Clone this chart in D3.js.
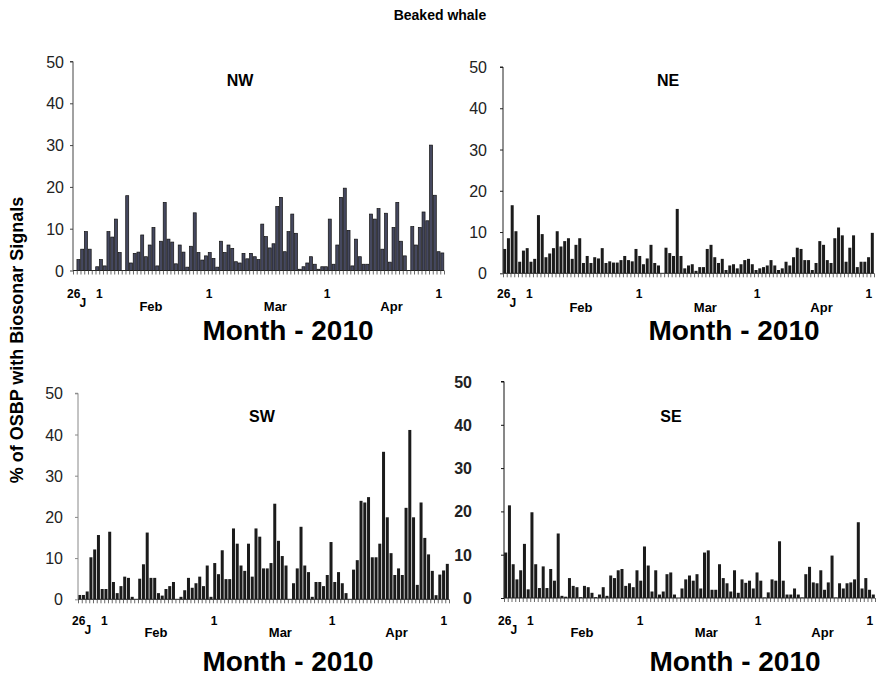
<!DOCTYPE html>
<html>
<head>
<meta charset="utf-8">
<script src="https://cdn.jsdelivr.net/npm/d3@7"></script>
<style>
  body { margin: 0; background: #fff; }
  svg { display: block; font-family: "Liberation Sans", Arial, sans-serif; }
</style>
</head>
<body>
<div id="chart"></div>
<script>
// daily % of OSBP with biosonar signals, Jan 26 -> early May 2010
var nwValues = [0, 2.6, 5.1, 9.3, 5.1, 0, 0.9, 2.6, 1.1, 9.3, 8.0, 12.3, 4.3, 0, 17.9, 1.8, 4.1, 4.4, 8.5, 3.3,
  6.1, 10.3, 1.1, 7.0, 16.3, 7.5, 6.8, 1.6, 6.1, 4.4, 0.8, 5.8, 13.8, 4.3, 2.5, 3.5, 4.3, 2.9, 0.8, 7.0,
  4.3, 6.1, 5.3, 2.1, 1.8, 4.1, 2.8, 4.1, 3.3, 2.6, 11.1, 8.1, 5.4, 6.4, 15.3, 17.5, 4.5, 9.3, 13.5, 8.9,
  0.3, 0.9, 1.8, 3.3, 1.5, 0.3, 0.9, 0.9, 12.3, 1.5, 6.1, 17.5, 19.7, 9.6, 1.1, 7.5, 3.3, 1.5, 1.5, 13.5,
  12.3, 14.8, 5.1, 13.7, 2.0, 10.3, 16.3, 7.0, 3.5, 0, 10.5, 6.1, 10.3, 14.0, 11.9, 30.0, 18.0, 4.5, 4.2];
var neValues = [5.9, 8.5, 16.5, 10.2, 2.8, 5.5, 6.1, 2.8, 3.5, 14.1, 9.5, 3.9, 4.8, 6.1, 10.2, 6.5, 7.8, 8.5, 3.5, 6.9,
  8.5, 2.5, 4.2, 2.5, 3.9, 3.6, 6.1, 2.5, 2.9, 2.6, 2.6, 3.2, 4.2, 3.2, 2.9, 5.9, 4.2, 2.2, 3.6, 6.9,
  2.5, 1.9, 0, 6.2, 4.9, 4.2, 15.6, 4.2, 1.2, 1.9, 2.2, 0.6, 1.5, 1.5, 5.9, 6.9, 3.9, 2.5, 3.5, 0.8,
  1.9, 2.2, 1.2, 2.2, 3.2, 3.5, 2.2, 0.8, 1.2, 1.5, 1.9, 3.2, 1.9, 0.8, 1.2, 2.8, 1.9, 3.9, 6.2, 5.9,
  3.2, 3.2, 0.8, 2.5, 7.8, 6.9, 3.2, 2.5, 8.5, 11.1, 9.2, 2.8, 6.2, 9.2, 1.5, 2.8, 2.8, 3.9, 9.8];
var swValues = [1.05, 1.05, 1.9, 10.2, 12.1, 15.6, 2.5, 2.5, 16.4, 4.2, 1.5, 3.2, 5.5, 5.2, 0.6, 0, 5.0, 8.5, 16.2, 5.2,
  5.2, 1.5, 0.9, 2.5, 3.2, 4.2, 0, 0.6, 2.2, 5.2, 2.8, 3.9, 5.5, 3.2, 8.2, 0.6, 8.8, 6.1, 11.9, 4.9,
  4.9, 17.2, 13.5, 8.2, 6.9, 13.5, 5.5, 17.2, 15.2, 7.5, 7.5, 8.8, 23.2, 14.2, 10.5, 8.2, 0, 3.9, 7.5, 17.6,
  8.2, 6.6, 0.6, 4.2, 4.2, 3.2, 5.9, 13.9, 4.2, 6.6, 3.9, 1.5, 0, 7.2, 9.5, 23.9, 23.5, 24.8, 10.2, 10.2,
  13.5, 35.8, 19.9, 11.2, 5.9, 7.5, 5.9, 22.2, 41.1, 19.9, 3.5, 23.5, 14.9, 10.9, 6.9, 1.0, 6.0, 7.0, 8.6];
var seValues = [10.5, 21.4, 7.8, 4.3, 6.4, 12.5, 2.0, 19.8, 7.8, 2.3, 7.3, 2.3, 6.7, 4.0, 14.9, 0.5, 0.3, 4.6, 2.8, 2.5,
  0.2, 2.8, 2.5, 1.2, 0.2, 0.8, 2.5, 0.5, 5.2, 4.6, 6.4, 6.7, 2.8, 3.4, 2.5, 6.4, 4.0, 11.9, 7.5, 1.5,
  6.4, 0.8, 1.5, 5.5, 5.9, 0.8, 0, 2.2, 4.3, 5.2, 4.0, 5.5, 2.2, 10.5, 11.0, 1.9, 1.9, 7.8, 4.6, 3.4,
  1.5, 6.4, 1.2, 4.3, 3.5, 4.0, 2.2, 5.9, 4.0, 0.1, 1.3, 4.3, 4.0, 13.1, 4.0, 0.8, 0.8, 2.2, 0.8, 0.1,
  5.5, 7.2, 3.6, 3.4, 6.4, 1.9, 3.6, 9.8, 0.1, 3.4, 2.2, 3.4, 3.6, 4.3, 17.5, 2.2, 4.6, 1.9, 0.8];

var panelNames = ["NW", "NE", "SW", "SE"];
var yTicks = [0, 10, 20, 30, 40, 50];
// date labels (first row) and month labels (second row), position in days from Jan 26
var dayLabels = ["26", "1", "1", "1", "1"];
var dayLabelPos = [0.2, 7.0, 36.3, 67.8, 97.6];
var monthLabels = ["J", "Feb", "Mar", "Apr"];
var monthLabelPos = [2.6, 20.8, 54.0, 85.0];
var nDays = 99;

var W = 880, H = 678;

// where each panel sits on the page
var layout = [
  {x0: 73,  x1: 444, top: 61.5, zero: 270.5, tickX: 64,  tx: 240, ty: 86,  row1: 298, row2: 311, xt: 288, xty: 340, fill: "#45485f", stroke: "#111", axis: "#444", boldTicks: false},
  {x0: 503, x1: 874, top: 67,   zero: 273.3, tickX: 487, tx: 668, ty: 86,  row1: 298, row2: 312, xt: 734, xty: 340, fill: "#1b1b1b", stroke: "none", axis: "#222", boldTicks: false},
  {x0: 78,  x1: 449, top: 393.3, zero: 599.3, tickX: 63, tx: 262, ty: 422, row1: 625, row2: 637, xt: 288, xty: 671, fill: "#1b1b1b", stroke: "none", axis: "#888", boldTicks: false},
  {x0: 504, x1: 875, top: 381.5, zero: 598, tickX: 472, tx: 671, ty: 422, row1: 625, row2: 637, xt: 735, xty: 671, fill: "#1b1b1b", stroke: "none", axis: "#111", boldTicks: true}
];
var series = [nwValues, neValues, swValues, seValues];

var svg = d3.select("#chart").append("svg")
  .attr("width", W)
  .attr("height", H);

svg.append("text")
  .attr("x", 440).attr("y", 20)
  .attr("text-anchor", "middle")
  .style("font-size", "14px").style("font-weight", "bold")
  .text("Beaked whale");

svg.append("text")
  .attr("transform", "translate(23,340) rotate(-90)")
  .attr("text-anchor", "middle")
  .style("font-size", "18px").style("font-weight", "bold")
  .text("% of OSBP with Biosonar Signals");

panelNames.forEach(function(name, i) {
  var L = layout[i];
  var data = series[i];
  var g = svg.append("g");

  var x = d3.scaleBand()
    .domain(d3.range(nDays))
    .range([L.x0, L.x1])
    .paddingInner(0.2)
    .paddingOuter(0.05);
  var xd = d3.scaleLinear().domain([0, nDays]).range([L.x0, L.x1]);
  var y = d3.scaleLinear().domain([0, 50]).range([L.zero, L.top]);

  // bars
  g.selectAll("rect")
    .data(data)
    .join("rect")
    .attr("x", function(d, j) { return x(j); })
    .attr("y", function(d) { return y(d); })
    .attr("width", x.bandwidth())
    .attr("height", function(d) { return L.zero - y(d); })
    .attr("fill", L.fill)
    .attr("stroke", L.stroke)
    .attr("stroke-width", L.stroke == "none" ? 0 : 0.7);

  // y axis
  var ya = g.append("g")
    .attr("transform", "translate(" + L.x0 + ",0)")
    .call(d3.axisLeft(y).tickValues(yTicks).tickSize(3).tickPadding(0).tickFormat(""));
  ya.select(".domain").attr("stroke", L.axis).attr("d", "M-3," + L.top + "H0V" + L.zero);
  ya.selectAll(".tick line").attr("stroke", L.axis);

  g.selectAll(".ylab")
    .data(yTicks)
    .join("text")
    .attr("class", "ylab")
    .attr("x", L.tickX)
    .attr("y", function(d) { return y(d) + 6; })
    .attr("text-anchor", "end")
    .style("font-size", "16px")
    .style("font-weight", L.boldTicks ? "bold" : "normal")
    .attr("fill", "#222")
    .text(function(d) { return d; });

  // x axis with a tick for every day
  var xa = g.append("g")
    .attr("transform", "translate(0," + L.zero + ")")
    .call(d3.axisBottom(xd).tickValues(d3.range(0, nDays + 1)).tickSize(4).tickFormat(""));
  xa.select(".domain").attr("stroke", "#222").attr("d", "M" + L.x0 + ",0H" + L.x1);
  xa.selectAll(".tick line").attr("stroke", "#444").attr("stroke-width", 0.8);

  g.selectAll(".dlab")
    .data(dayLabels)
    .join("text")
    .attr("class", "dlab")
    .attr("x", function(d, j) { return xd(dayLabelPos[j]); })
    .attr("y", L.row1)
    .attr("text-anchor", "middle")
    .style("font-size", "12px").style("font-weight", "bold")
    .text(function(d) { return d; });

  g.selectAll(".mlab")
    .data(monthLabels)
    .join("text")
    .attr("class", "mlab")
    .attr("x", function(d, j) { return xd(monthLabelPos[j]); })
    .attr("y", function(d, j) { return j == 0 ? L.row1 + 9 : L.row2; })
    .attr("text-anchor", "middle")
    .style("font-size", function(d, j) { return j == 0 ? "12px" : "13px"; })
    .style("font-weight", "bold")
    .text(function(d) { return d; });

  // panel title and axis title
  g.append("text")
    .attr("x", L.tx).attr("y", L.ty)
    .attr("text-anchor", "middle")
    .style("font-size", "16px").style("font-weight", "bold")
    .text(name);

  g.append("text")
    .attr("x", L.xt).attr("y", L.xty)
    .attr("text-anchor", "middle")
    .style("font-size", "28px").style("font-weight", "bold")
    .text("Month - 2010");
});
</script>
</body>
</html>
